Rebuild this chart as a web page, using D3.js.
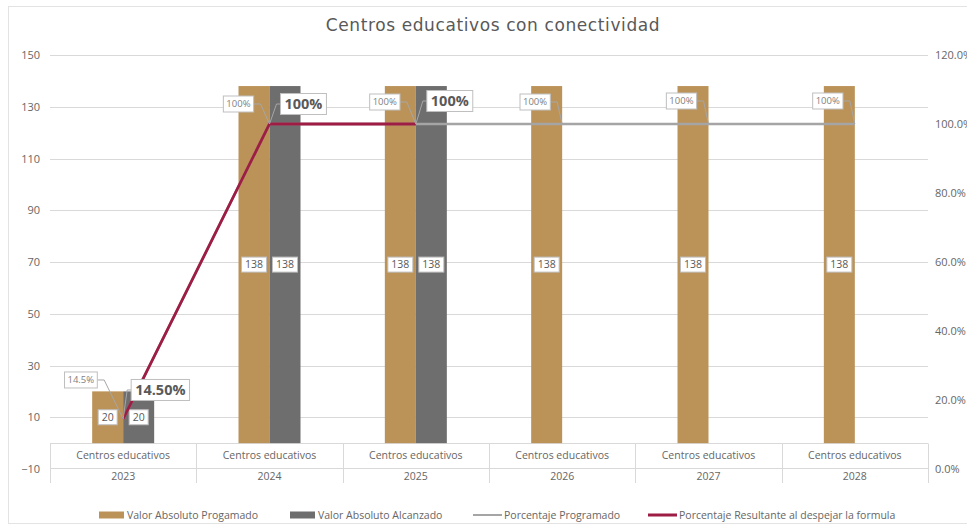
<!DOCTYPE html>
<html>
<head>
<meta charset="utf-8">
<script src="https://cdn.jsdelivr.net/npm/d3@7"></script>
<style>
  body { margin: 0; background: #fff; }
  svg text { font-family: "Open Sans", sans-serif; }
</style>
</head>
<body>
<div id="chart"></div>
<script>
// data
var years = ["2023", "2024", "2025", "2026", "2027", "2028"];
var category = "Centros educativos";
var valorProgramado = [20, 138, 138, 138, 138, 138];
var valorAlcanzado = [20, 138, 138, null, null, null];
var pctProgramado = [0.145, 1, 1, 1, 1, 1];
var pctResultante = [0.145, 1, 1, null, null, null];
var pctProgramadoLabels = ["14.5%", "100%", "100%", "100%", "100%", "100%"];
var pctResultanteLabels = ["14.50%", "100%", "100%", null, null, null];
var leftTicks = [-10, 10, 30, 50, 70, 90, 110, 130, 150];
var rightTicks = [0, 0.2, 0.4, 0.6, 0.8, 1, 1.2];
var seriesNames = ["Valor Absoluto Progamado", "Valor Absoluto Alcanzado", "Porcentaje Programado", "Porcentaje Resultante al despejar la formula"];

var W = 967, H = 527;
var colTan = "#bb9359", colGray = "#6e6e6e", colLine = "#a5a5a5", colRed = "#9d1d44";
var txt = "#666666", grid = "#d9d9d9";

var svg = d3.select("#chart").append("svg")
  .attr("width", W).attr("height", H);

// outer chart border
svg.append("rect").attr("x", 8.5).attr("y", 6.5).attr("width", W).attr("height", H - 10)
  .attr("fill", "none").attr("stroke", "#e3e3e3");

var x = d3.scaleBand().domain(years).range([50, 928]);
var bw = x.bandwidth();
var x1 = d3.scaleBand().domain(["prog", "alc"]).range([bw / 2 - 31, bw / 2 + 31]);
var y = d3.scaleLinear().domain([-10, 150]).range([469, 55]);
var y2 = d3.scaleLinear().domain([0, 1.2]).range([469, 55]);

// title
svg.append("text").attr("x", 493).attr("y", 31).attr("text-anchor", "middle")
  .style("font-family", "'DejaVu Sans'").attr("font-size", "17px").attr("letter-spacing", "0.6px")
  .attr("fill", "#595959").text("Centros educativos con conectividad");

// gridlines
svg.selectAll(".grid").data(leftTicks.filter(function(d) { return d > -10; }))
  .enter().append("line")
  .attr("x1", 50).attr("x2", 928)
  .attr("y1", function(d) { return Math.round(y(d)) + 0.5; })
  .attr("y2", function(d) { return Math.round(y(d)) + 0.5; })
  .attr("stroke", grid);

// left axis
var leftAxis = svg.append("g").attr("transform", "translate(50,0)")
  .call(d3.axisLeft(y).tickValues(leftTicks).tickSize(0).tickPadding(10));
leftAxis.select(".domain").remove();
leftAxis.selectAll("text").attr("font-size", "11px").attr("fill", txt);

// right axis
var rightAxis = svg.append("g").attr("transform", "translate(928,0)")
  .call(d3.axisRight(y2).tickValues(rightTicks).tickSize(0).tickPadding(7).tickFormat(d3.format(".1%")));
rightAxis.select(".domain").remove();
rightAxis.selectAll("text").attr("font-size", "11px").attr("fill", txt);

// category table
var yBase = Math.round(y(0)) + 0.5;
var tbl = svg.append("g");
tbl.append("line").attr("x1", 50).attr("x2", 928).attr("y1", yBase).attr("y2", yBase).attr("stroke", grid);
tbl.append("line").attr("x1", 50).attr("x2", 928).attr("y1", 468.5).attr("y2", 468.5).attr("stroke", grid);
tbl.selectAll(".sep").data(years.concat(["end"])).enter().append("line")
  .attr("x1", function(d, i) { return Math.round(50 + i * bw) + 0.5; })
  .attr("x2", function(d, i) { return Math.round(50 + i * bw) + 0.5; })
  .attr("y1", yBase).attr("y2", 483).attr("stroke", grid);
tbl.selectAll(".cat").data(years).enter().append("text")
  .attr("x", function(d) { return x(d) + bw / 2; }).attr("y", 459)
  .attr("text-anchor", "middle").attr("font-size", "10.5px").attr("fill", txt).text(category);
tbl.selectAll(".yr").data(years).enter().append("text")
  .attr("x", function(d) { return x(d) + bw / 2; }).attr("y", 480)
  .attr("text-anchor", "middle").attr("font-size", "10.5px").attr("fill", txt).text(function(d) { return d; });

// bars
var bars = [];
years.forEach(function(yr, i) {
  bars.push({ year: yr, key: "prog", v: valorProgramado[i], c: colTan });
  if (valorAlcanzado[i] != null) bars.push({ year: yr, key: "alc", v: valorAlcanzado[i], c: colGray });
});
svg.selectAll(".bar").data(bars).enter().append("rect")
  .attr("class", "bar")
  .attr("x", function(d) { return x(d.year) + x1(d.key); })
  .attr("width", x1.bandwidth())
  .attr("y", function(d) { return y(d.v); })
  .attr("height", function(d) { return y(0) - y(d.v); })
  .attr("fill", function(d) { return d.c; });

// bar value labels
var barLab = svg.selectAll(".barlab").data(bars).enter().append("g")
  .attr("transform", function(d) {
    return "translate(" + (x(d.year) + x1(d.key) + x1.bandwidth() / 2) + "," + ((y(d.v) + y(0)) / 2) + ")";
  });
barLab.append("text").attr("text-anchor", "middle").attr("dy", "0.35em")
  .attr("font-size", "10.5px").attr("fill", "#595959").text(function(d) { return d.v; });
barLab.each(function() {
  var g = d3.select(this), b = g.select("text").node().getBBox();
  g.insert("rect", "text").attr("x", b.x - 3.5).attr("y", -7.5).attr("width", b.width + 7).attr("height", 15)
    .attr("fill", "#fff").attr("stroke", "#bfbfbf");
});

// lines
var cx = function(i) { return x(years[i]) + bw / 2; };
var line = d3.line().defined(function(d) { return d != null; })
  .x(function(d, i) { return cx(i); }).y(function(d) { return y2(d); });
svg.append("path").datum(pctProgramado).attr("fill", "none").attr("stroke", colLine)
  .attr("stroke-width", 2.5).attr("d", line);
svg.append("path").datum(pctResultante).attr("fill", "none").attr("stroke", colRed)
  .attr("stroke-width", 2.8).attr("d", line);

// label placement nudges (dx, dy from the point)
var progNudge = [[-26, -39], [-16, -20], [-16, -22], [-12, -22], [-12, -23], [-12, -23]];
var resNudge = [[8, -29], [11, -20], [11, -23]];

// programado % labels
pctProgramadoLabels.forEach(function(lab, i) {
  var px = cx(i), py = y2(pctProgramado[i]);
  var bx = px + progNudge[i][0], by = py + progNudge[i][1];
  var g = svg.append("g");
  var t = g.append("text").attr("x", bx - 3).attr("y", by).attr("dy", "0.35em")
    .attr("text-anchor", "end").attr("font-size", "9.5px").attr("fill", "#7f7f7f").text(lab);
  var b = t.node().getBBox();
  g.insert("polyline", "text").attr("points", [[bx, by], [bx + 7, by], [px, py]].join(" "))
    .attr("fill", "none").attr("stroke", "#a6a6a6");
  g.insert("rect", "text").attr("x", b.x - 3).attr("y", by - 8).attr("width", b.width + 6).attr("height", 16)
    .attr("fill", "#fff").attr("stroke", "#bfbfbf");
});

// resultante % labels
pctResultanteLabels.forEach(function(lab, i) {
  if (lab == null) return;
  var px = cx(i), py = y2(pctResultante[i]);
  var bx = px + resNudge[i][0], by = py + resNudge[i][1];
  var g = svg.append("g");
  var t = g.append("text").attr("x", bx + 4).attr("y", by).attr("dy", "0.35em")
    .attr("font-size", "14.5px").attr("font-weight", "bold").attr("fill", "#595959").text(lab);
  var b = t.node().getBBox();
  g.insert("polyline", "text").attr("points", [[px, py], [bx - 4, by], [bx, by]].join(" "))
    .attr("fill", "none").attr("stroke", "#a6a6a6");
  g.insert("rect", "text").attr("x", bx).attr("y", by - 10.5).attr("width", b.width + 8).attr("height", 21)
    .attr("fill", "#fff").attr("stroke", "#bfbfbf");
});

// legend
var legX = [99, 290, 473, 648];
var leg = svg.selectAll(".leg").data(seriesNames).enter().append("g")
  .attr("transform", function(d, i) { return "translate(" + legX[i] + ",515)"; });
leg.append("rect").attr("width", function(d, i) { return i < 2 ? 25 : 29; })
  .attr("y", function(d, i) { return i < 2 ? -3.5 : (i == 2 ? -1 : -1.5); })
  .attr("height", function(d, i) { return i < 2 ? 7 : (i == 2 ? 2 : 3); })
  .attr("fill", function(d, i) { return [colTan, colGray, colLine, colRed][i]; });
leg.append("text").attr("x", function(d, i) { return i < 2 ? 28 : 31; }).attr("dy", "0.35em")
  .attr("font-size", "10.5px").attr("fill", txt).text(function(d) { return d; });
</script>
</body>
</html>
